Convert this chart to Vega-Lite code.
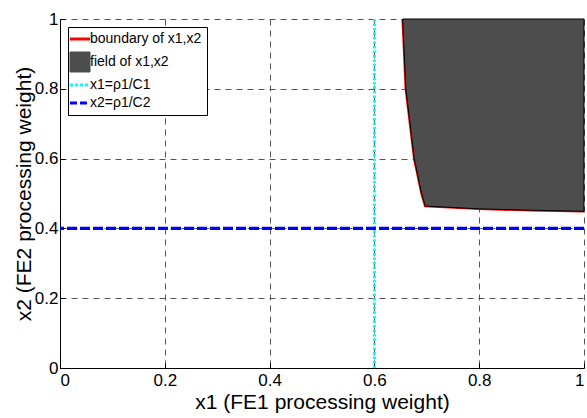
{
  "$schema": "https://vega.github.io/schema/vega-lite/v6.json",
  "width": 524,
  "height": 349,
  "autosize": {"type": "none"},
  "padding": {"left": 60, "top": 19, "right": 3, "bottom": 50},
  "config": {
    "font": "Liberation Sans",
    "view": {"stroke": null},
    "axis": {
      "domainColor": "black",
      "domainWidth": 1,
      "tickColor": "black",
      "tickSize": -5,
      "labelColor": "black",
      "labelFontSize": 17,
      "labelOverlap": false,
      "titleFontSize": 21,
      "titleFontWeight": "normal",
      "titleColor": "black",
      "grid": true,
      "gridColor": "#555555",
      "gridDash": [6, 5],
      "gridWidth": 1,
      "gridOpacity": 1,
      "format": "~g"
    }
  },
  "datasets": {
    "boundary": [
      {"x1": 0.654, "x2": 1.0},
      {"x1": 0.66, "x2": 0.8},
      {"x1": 0.676, "x2": 0.6},
      {"x1": 0.69, "x2": 0.5},
      {"x1": 0.697, "x2": 0.464},
      {"x1": 0.8, "x2": 0.456},
      {"x1": 0.9, "x2": 0.452},
      {"x1": 1.0, "x2": 0.449}
    ],
    "vline": [{"x1": 0.6}],
    "hline": [{"x2": 0.4}]
  },
  "layer": [
    {
      "data": {"name": "boundary"},
      "mark": {"type": "line", "strokeWidth": 2.5},
      "encoding": {
        "x": {"field": "x1", "type": "quantitative", "scale": {"domain": [0, 1], "nice": false},
              "axis": {"title": "x1  (FE1 processing weight)", "values": [0, 0.2, 0.4, 0.6, 0.8, 1], "labelPadding": 9, "titlePadding": 3}},
        "y": {"field": "x2", "type": "quantitative", "scale": {"domain": [0, 1], "nice": false},
              "axis": {"title": "x2 (FE2 processing weight)", "values": [0, 0.2, 0.4, 0.6, 0.8, 1], "labelPadding": 7, "titlePadding": 0}},
        "color": {
          "datum": "boundary of x1,x2",
          "type": "nominal",
          "scale": {
            "domain": ["boundary of x1,x2", "field of x1,x2", "x1=ρ1/C1", "x2=ρ1/C2"],
            "range": ["#ff0000", "#4d4d4d", "#00ffff", "#0000ff"]
          },
          "legend": {
            "title": null,
            "orient": "top-left",
            "offset": 8,
            "strokeColor": "black",
            "fillColor": "white",
            "padding": 5,
            "rowPadding": 4,
            "symbolSize": 400,
            "symbolType": "stroke",
            "labelFontSize": 14,
            "labelColor": "black",
            "labelOffset": 3,
            "encode": {
              "symbols": {
                "update": {
                  "shape": {"signal": "datum.value === 'field of x1,x2' ? 'square' : 'stroke'"},
                  "fill": {"signal": "datum.value === 'field of x1,x2' ? '#4d4d4d' : 'transparent'"},
                  "stroke": {"signal": "datum.value === 'boundary of x1,x2' ? '#ff0000' : datum.value === 'field of x1,x2' ? '#000000' : datum.value === 'x1=ρ1/C1' ? '#00ffff' : '#0000ff'"},
                  "strokeWidth": {"signal": "datum.value === 'field of x1,x2' ? 1 : 3"},
                  "strokeDash": {"signal": "datum.value === 'x1=ρ1/C1' ? [3, 2] : datum.value === 'x2=ρ1/C2' ? [7, 3] : [1, 0]"},
                  "opacity": {"value": 1}
                }
              }
            }
          }
        }
      }
    },
    {
      "data": {"name": "boundary"},
      "mark": {"type": "area", "stroke": "black", "strokeWidth": 1, "opacity": 1},
      "encoding": {
        "x": {"field": "x1", "type": "quantitative"},
        "y": {"field": "x2", "type": "quantitative"},
        "y2": {"datum": 1},
        "color": {"datum": "field of x1,x2", "type": "nominal"}
      }
    },
    {
      "data": {"name": "vline"},
      "mark": {"type": "rule", "strokeWidth": 3, "strokeDash": [2.5, 2]},
      "encoding": {
        "x": {"field": "x1", "type": "quantitative"},
        "color": {"datum": "x1=ρ1/C1", "type": "nominal"}
      }
    },
    {
      "data": {"name": "hline"},
      "mark": {"type": "rule", "strokeWidth": 3.3, "strokeDash": [10, 3]},
      "encoding": {
        "y": {"field": "x2", "type": "quantitative"},
        "color": {"datum": "x2=ρ1/C2", "type": "nominal"}
      }
    }
  ]
}
